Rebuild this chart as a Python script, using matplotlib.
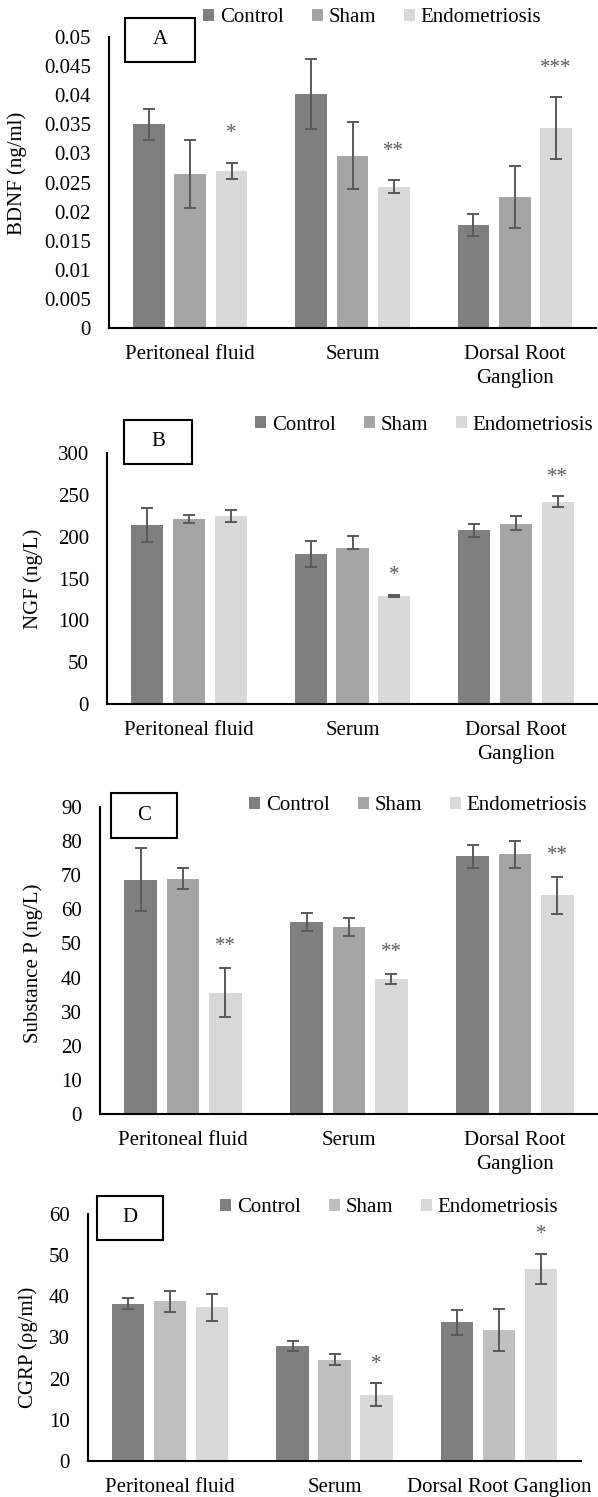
import numpy as np
import matplotlib
matplotlib.use("Agg")
from matplotlib import pyplot as plt
from matplotlib.patches import Rectangle
from matplotlib.ticker import FormatStrFormatter

plt.rcParams["font.family"] = ["Liberation Serif", "DejaVu Serif"]
plt.rcParams["font.size"] = 15

W, H = 598, 1497

# data
groups = ["Control", "Sham", "Endometriosis"]
cats = ["Peritoneal fluid", "Serum", "Dorsal Root\nGanglion"]
cats_d = ["Peritoneal fluid", "Serum", "Dorsal Root Ganglion"]

# rows = groups, columns = categories
bdnf = [[0.0350, 0.0402, 0.0177],
        [0.0265, 0.0296, 0.0225],
        [0.0270, 0.0243, 0.0344]]
bdnf_err = [[0.0027, 0.0060, 0.0019],
            [0.0058, 0.0058, 0.0053],
            [0.0014, 0.0011, 0.0053]]
bdnf_stars = ["*", "**", "***"]

ngf = [[213.7, 178.8, 207.4],
       [221.3, 186.7, 215.3],
       [224.9, 129.1, 241.6]]
ngf_err_lo = [[20, 15.5, 8],
              [5, 1, 7],
              [7, 1.2, 6.5]]
ngf_err_hi = [[20, 15.5, 8],
              [4, 14.5, 9],
              [7, 1.2, 6.5]]
ngf_stars = ["", "*", "**"]

subp = [[68.7, 56.3, 75.6],
        [69.0, 54.8, 76.1],
        [35.6, 39.5, 64.1]]
subp_err = [[9.3, 2.6, 3.4],
            [3.0, 2.6, 3.9],
            [7.2, 1.5, 5.5]]
subp_stars = ["**", "**", "**"]

cgrp = [[38.2, 27.9, 33.7],
        [38.8, 24.6, 31.8],
        [37.3, 16.1, 46.7]]
cgrp_err = [[1.35, 1.3, 3.1],
            [2.6, 1.3, 5.1],
            [3.3, 2.8, 3.6]]
cgrp_stars = ["", "*", "*"]

colors = ["#7f7f7f", "#a5a5a5", "#d9d9d9"]
colors_d = ["#7f7f7f", "#bfbfbf", "#d9d9d9"]
err_color = "#595959"


def px_rect(l, t, r, b):
    return [l / W, 1 - b / H, (r - l) / W, (b - t) / H]


fig = plt.figure(figsize=(W / 100, H / 100), dpi=100)

panels = [
    dict(rect=(109, 37, 596, 328), vals=bdnf, lo=bdnf_err, hi=bdnf_err, stars=bdnf_stars,
         star_pad=17.5, ymax=0.05, step=0.005, ylabel="BDNF (ng/ml)", lab=(-0.168, 0.533),
         cats=cats, colors=colors, box=(125, 18, 195, 62, "A"), leg=(203, 18)),
    dict(rect=(107, 453, 598, 704), vals=ngf, lo=ngf_err_lo, hi=ngf_err_hi, stars=ngf_stars,
         star_pad=10.5, ymax=300, step=50, ylabel="NGF (ng/L)", lab=(-0.130, 0.5),
         cats=cats, colors=colors, box=(124, 420, 192, 464, "B"), leg=(255, 425)),
    dict(rect=(100, 807, 598, 1114), vals=subp, lo=subp_err, hi=subp_err, stars=subp_stars,
         star_pad=12, ymax=90, step=10, ylabel="Substance P (ng/L)", lab=(-0.114, 0.49),
         cats=cats, colors=colors, box=(111, 793, 177, 838, "C"), leg=(249, 806)),
    dict(rect=(88, 1214, 581, 1461), vals=cgrp, lo=cgrp_err, hi=cgrp_err, stars=cgrp_stars,
         star_pad=10.5, ymax=60, step=10, ylabel="CGRP (\u03c1g/ml)", lab=(-0.101, 0.46),
         cats=cats_d, colors=colors_d, box=(97, 1196, 163, 1240, "D"), leg=(220, 1208)),
]

x = np.arange(3)
bw = 0.196
off = 0.255

for p in panels:
    ax = fig.add_axes(px_rect(*p["rect"]))
    for i, g in enumerate(groups):
        xs = x + (i - 1) * off
        ax.bar(xs, p["vals"][i], width=bw, color=p["colors"][i], label=g, zorder=2)
        ax.errorbar(xs, p["vals"][i], yerr=[p["lo"][i], p["hi"][i]], fmt="none",
                    ecolor=err_color, elinewidth=1.4, capsize=4.5, capthick=1.4, zorder=3)
    # significance stars over the endometriosis bars
    for j in range(3):
        s = p["stars"][j]
        if s:
            top = p["vals"][2][j] + p["hi"][2][j]
            ax.annotate(s, (x[j] + off, top), xytext=(0, p["star_pad"]), textcoords="offset points",
                        ha="center", va="baseline", fontsize=15, color=err_color)

    ax.set_xlim(-0.5, 2.5)
    ax.set_ylim(0, p["ymax"])
    ax.set_yticks(np.arange(0, p["ymax"] + p["step"] / 2, p["step"]))
    ax.yaxis.set_major_formatter(FormatStrFormatter("%g"))
    ax.set_xticks(x)
    ax.set_xticklabels(p["cats"], linespacing=1.3)
    ax.tick_params(axis="both", length=0, labelsize=15)
    ax.tick_params(axis="y", pad=13)
    ax.tick_params(axis="x", pad=12.5)
    for sp in ["top", "right"]:
        ax.spines[sp].set_visible(False)
    for sp in ["left", "bottom"]:
        ax.spines[sp].set_linewidth(1.5)
        ax.spines[sp].set_color("black")
    ax.set_ylabel(p["ylabel"], fontsize=15)
    ax.yaxis.set_label_coords(*p["lab"])

    lx, ly = p["leg"]
    ax.legend(loc="center left", bbox_to_anchor=(lx / W, 1 - ly / H), bbox_transform=fig.transFigure,
              ncol=3, frameon=False, borderpad=0, borderaxespad=0, handlelength=0.55,
              handleheight=0.55, handletextpad=0.25, columnspacing=1.35, fontsize=15)

    l, t, r, b, letter = p["box"]
    fig.patches.append(Rectangle((l / W, 1 - b / H), (r - l) / W, (b - t) / H,
                                 transform=fig.transFigure, facecolor="white",
                                 edgecolor="black", linewidth=1.5, zorder=5))
    fig.text((l + r) / 2 / W, 1 - (t + b) / 2 / H, letter, ha="center", va="center",
             fontsize=15, zorder=6)

fig.savefig("out.png", dpi=100)
